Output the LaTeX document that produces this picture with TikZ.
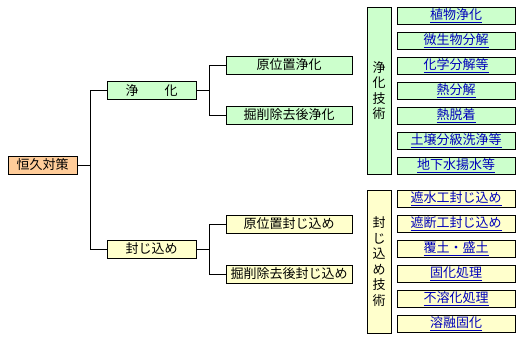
\documentclass[tikz,border=0pt]{standalone}
\usepackage{fontspec}
\setmainfont{Noto Sans CJK JP}
\usepackage{xcolor}
\usetikzlibrary{positioning,calc}

\definecolor{boxgreen}{HTML}{CCFFCC}
\definecolor{boxyellow}{HTML}{FFFFCC}
\definecolor{boxorange}{HTML}{FFCC99}
\definecolor{linkblue}{HTML}{0000BB}

\begin{document}
\begin{tikzpicture}[x=1pt, y=-1pt,
    every node/.style={font=\fontsize{13}{15.5}\selectfont, inner sep=0pt},
    box/.style={draw=black, line width=0.8pt, minimum height=18pt},
    mainbox/.style={box, fill=boxorange, minimum width=69pt},
    midbox/.style={box, minimum width=89pt},
    subbox/.style={box, minimum width=126pt},
    techbox/.style={box, minimum width=118pt, minimum height=17pt, text=linkblue},
    groupbox/.style={box, minimum width=24pt, align=center},
    link/.style={line width=0.8pt}
  ]

    \useasboundingbox (0,0) rectangle (521,340);

    % Root
    \node[mainbox] (kyu) at (42.5,165) {恒久対策};

    % Second level
    \node[midbox, fill=boxgreen] (jouka) at (151.5,90.5) {浄　　化};
    \node[midbox, fill=boxyellow] (fuji) at (151.5,249) {封じ込め};

    % Third level
    \node[subbox, fill=boxgreen] (jgen) at (289,65) {原位置浄化};
    \node[subbox, fill=boxgreen] (jkus) at (289,115) {掘削除去後浄化};
    \node[subbox, fill=boxyellow] (fgen) at (289,224) {原位置封じ込め};
    \node[subbox, fill=boxyellow] (fkus) at (289,274) {掘削除去後封じ込め};

    % Connectors
    \draw[link] (jouka.west) -- ++(-16,0) |- (kyu.east);
    \draw[link] (fuji.west) -- ++(-16,0) |- (kyu.east);
    \draw[link] (jouka.east) -- ++(13,0) |- (jgen.west);
    \draw[link] (jouka.east) -- ++(13,0) |- (jkus.west);
    \draw[link] (fuji.east) -- ++(13,0) |- (fgen.west);
    \draw[link] (fuji.east) -- ++(13,0) |- (fkus.west);

    % Technology groups
    \node[groupbox, fill=boxgreen, minimum height=167pt] (jtech) at (379,90.5) {浄\\化\\技\\術};
    \node[groupbox, fill=boxyellow, minimum height=143pt] (ftech) at (379,261.5) {封\\じ\\込\\め\\技\\術};

    % Purification methods
    \foreach \i/\txt in {1/植物浄化, 2/微生物分解, 3/化学分解等, 4/熱分解,
                         5/熱脱着, 6/土壌分級洗浄等, 7/地下水揚水等} {
        \node[techbox, fill=boxgreen] (jm\i) at (456,{15.5+25*(\i-1)}) {\underline{\txt}};
    }

    % Containment methods
    \foreach \i/\txt in {1/遮水工封じ込め, 2/遮断工封じ込め, 3/覆土・盛土,
                         4/固化処理, 5/不溶化処理, 6/溶融固化} {
        \node[techbox, fill=boxyellow] (fm\i) at (456,{199+25*(\i-1)}) {\underline{\txt}};
    }

\end{tikzpicture}
\end{document}
